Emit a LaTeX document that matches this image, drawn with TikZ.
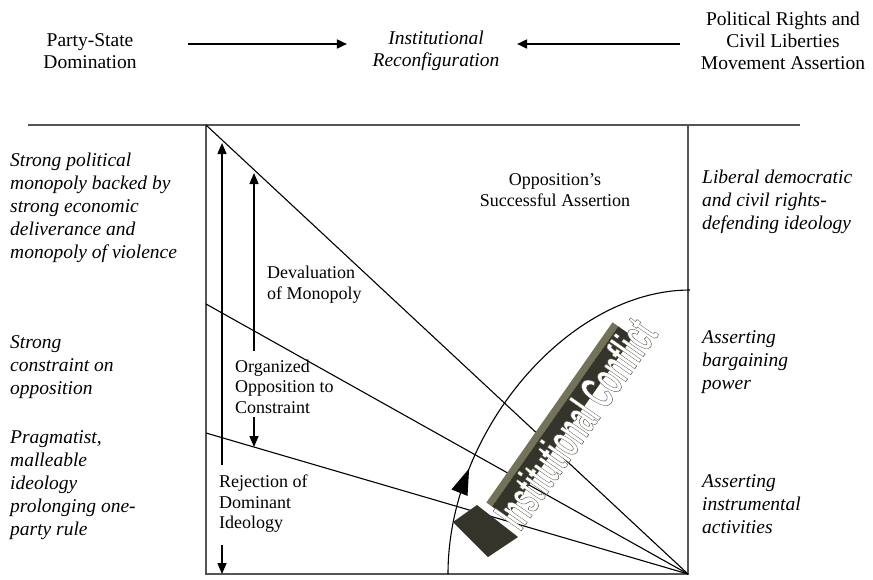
\documentclass[tikz,border=0pt]{standalone}
\usepackage{fontspec}
\setmainfont{Liberation Serif}
\newfontfamily\artfont[FakeBold=1]{Liberation Sans Bold}
\usepackage{graphicx}
\usetikzlibrary{arrows.meta,decorations.markings,calc}
\definecolor{artdark}{HTML}{34342A}
\definecolor{artmid}{HTML}{74735A}
\definecolor{framegray}{HTML}{555555}
\begin{document}
\begin{tikzpicture}[x=1pt,y=-1pt,
  toptext/.style={align=center,inner sep=0pt,font=\fontsize{19.5}{22}\selectfont},
  sidetext/.style={align=left,anchor=west,inner sep=0pt,font=\itshape\fontsize{19.5}{23}\selectfont},
  boxlabel/.style={align=left,anchor=west,inner sep=0pt,font=\fontsize{18}{20.5}\selectfont},
  framel/.style={draw=framegray,line width=1.5pt},
  ray/.style={draw=black,line width=1.1pt},
  toparrow/.style={line width=1.8pt,-{Triangle[length=10pt,width=9pt]}},
  varrow/.style={line width=1.5pt,-{Triangle[length=11pt,width=9pt]}},
  curveline/.style={draw=black,line width=1.1pt},
  arttext/.style={rotate=55,inner sep=0pt},
]
\useasboundingbox (0,0) rectangle (873,579);

% ---------- top row ----------
\node[toptext] (psd) at (90,51) {Party-State\\Domination};
\node[toptext,font=\itshape\fontsize{19.5}{22}\selectfont] (inst) at (436,51) {Institutional\\Reconfiguration};
\node[toptext] (prc) at (783,41) {Political Rights and\\Civil Liberties\\Movement Assertion};
\draw[toparrow] ([shift={(51.5pt,7pt)}]psd.east) -- ([shift={(-25.5pt,7pt)}]inst.west);
\draw[toparrow] ([shift={(-21pt,-3pt)}]prc.west) -- ([shift={(17.5pt,7pt)}]inst.east);

% ---------- frame ----------
\coordinate (hlL) at (28,125);
\coordinate (hlR) at (800,125);
\coordinate (tl) at (206,125);
\coordinate (bl) at (206,574);
\coordinate (br) at (688,574);
\coordinate (tr) at (688,125);
\coordinate (ml) at (206,304);
\coordinate (ll) at (206,433);
\draw[framel] (hlL) -- (hlR);
\draw[framel] (tl) -- (bl) -- (br) -- (tr);

% ---------- rays ----------
\draw[ray] (br) -- (tl);
\draw[ray] (br) -- (ml);
\draw[ray] (br) -- (ll);

% ---------- side texts ----------
\node[sidetext] (l1) at (10,207.5) {Strong political\\monopoly backed by\\strong economic\\deliverance and\\monopoly of violence};
\node[sidetext] (l2) at (10,367.5) {Strong\\constraint on\\opposition};
\node[sidetext] (l3) at (10,485) {Pragmatist,\\malleable\\ideology\\prolonging one-\\party rule};
\node[sidetext] (r1) at (702,201.5) {Liberal democratic\\and civil rights-\\defending ideology};
\node[sidetext] (r2) at (702,362) {Asserting\\bargaining\\power};
\node[sidetext] (r3) at (702,504) {Asserting\\instrumental\\activities};

% ---------- box labels ----------
\node[boxlabel] (dev) at (267,284.5) {Devaluation\\of Monopoly};
\node[boxlabel] (org) at (235,386.5) {Organized\\Opposition to\\Constraint};
\node[boxlabel] (rej) at (219,504) {Rejection of\\Dominant\\Ideology};
\node[toptext,font=\fontsize{18}{21}\selectfont] (opp) at (555,190) {Opposition's\\Successful Assertion};

% ---------- vertical arrows ----------
\coordinate (rejA) at (222,465);
\coordinate (rejTop) at (222,143);
\coordinate (rejB) at (222,545);
\coordinate (rejBot) at (222,574);
\coordinate (orgA) at (254,351);
\coordinate (orgTop) at (254,173);
\coordinate (orgB) at (254,417);
\coordinate (orgBot) at (254,447);
\draw[varrow] (rejA) -- (rejTop);
\draw[varrow] (rejB) -- (rejBot);
\draw[varrow] (orgA) -- (orgTop);
\draw[varrow] (orgB) -- (orgBot);

% ---------- curve ----------
\coordinate (cs) at (448,574);
\coordinate (ce) at (690,290);
\draw[curveline,postaction={decorate},
  decoration={markings,mark=at position 0.265 with {\arrow{Triangle[length=26pt,width=17pt]}}}]
  (cs) .. controls (448,432) and (568,290) .. (ce);

% ---------- word art: extrusion ----------
\fill[artdark] (453,522) -- (477,505) -- (518,537) -- (488,557) -- cycle;
\begin{scope}[shift={(575,423)},rotate=55]
  \fill[artmid] (-116,-20) rectangle (104,-27);
  \fill[artdark] (-116,-2) rectangle (104,-20);
\end{scope}
% ---------- word art: face ----------
\node[arttext] (ic) at (575,423) {\scalebox{0.5}[1]{\artfont\fontsize{50}{50}\selectfont\color{white}\special{pdf:literal direct 0.3 0.3 0.25 RG}Institutional Conflict}};
\end{tikzpicture}
\end{document}
